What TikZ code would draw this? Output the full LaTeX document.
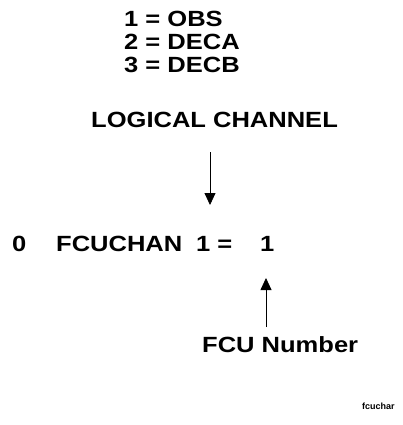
\documentclass[tikz,border=0pt]{standalone}
\usepackage{fontspec}
\setmainfont{Liberation Sans}
\usetikzlibrary{arrows.meta}
\newcommand{\wideb}[1]{\scalebox{1.16}[1]{#1}}
\begin{document}
\begin{tikzpicture}[x=1pt,y=-1pt,
  bigtext/.style={inner sep=0pt,anchor=base west,font=\fontsize{22}{26}\selectfont\bfseries},
  smalltext/.style={inner sep=0pt,anchor=base west,font=\fontsize{9}{11}\selectfont\bfseries},
  pointer/.style={line width=0.8pt,-{Triangle[length=12pt,width=11pt]}}]
\useasboundingbox (0,0) rectangle (403,425);
\node[bigtext] (l1) at (124,27) {\wideb{1 = OBS}};
\node[bigtext] (l2) at (124,50) {\wideb{2 = DECA}};
\node[bigtext] (l3) at (124,73) {\wideb{3 = DECB}};
\node[bigtext] (lc) at (91,128) {\wideb{LOGICAL CHANNEL}};
\node[bigtext] (zero) at (12,251) {\wideb{0}};
\node[bigtext] (fcuchan) at (56,251) {\wideb{FCUCHAN}};
\node[bigtext] (one) at (196,251) {\wideb{1 =}};
\node[bigtext] (val) at (260,251) {\wideb{1}};
\node[bigtext] (fcunum) at (202,352) {\wideb{FCU Number}};
\node[smalltext] (tag) at (362,409) {fcuchar};
\coordinate (dtop) at (210,152);
\coordinate (dtip) at (210,205);
\coordinate (ubot) at (266,327);
\coordinate (utip) at (266,278);
\draw[pointer] (dtop) -- (dtip);
\draw[pointer] (ubot) -- (utip);
\end{tikzpicture}
\end{document}
